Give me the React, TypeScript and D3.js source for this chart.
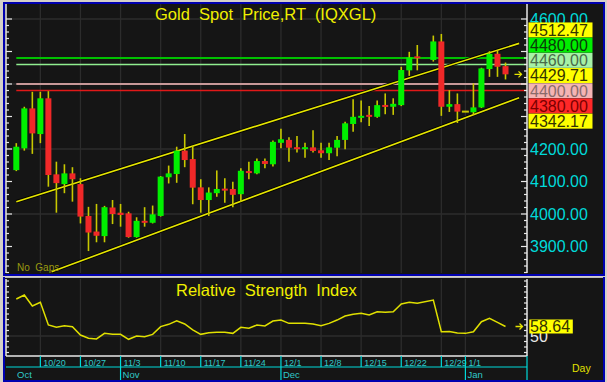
import React from "react";
import * as d3 from "d3";

// ---------------- DATA ----------------
const dates = [
  "2025-10-15","2025-10-16","2025-10-17",
  "2025-10-20","2025-10-21","2025-10-22","2025-10-23","2025-10-24",
  "2025-10-27","2025-10-28","2025-10-29","2025-10-30","2025-10-31",
  "2025-11-03","2025-11-04","2025-11-05","2025-11-06","2025-11-07",
  "2025-11-10","2025-11-11","2025-11-12","2025-11-13","2025-11-14",
  "2025-11-17","2025-11-18","2025-11-19","2025-11-20","2025-11-21",
  "2025-11-24","2025-11-25","2025-11-26","2025-11-27","2025-11-28",
  "2025-12-01","2025-12-02","2025-12-03","2025-12-04","2025-12-05",
  "2025-12-08","2025-12-09","2025-12-10","2025-12-11","2025-12-12",
  "2025-12-15","2025-12-16","2025-12-17","2025-12-18","2025-12-19",
  "2025-12-22","2025-12-23","2025-12-24","2025-12-26",
  "2025-12-29","2025-12-30","2025-12-31",
  "2026-01-01","2026-01-02",
  "2026-01-05","2026-01-06","2026-01-07","2026-01-08",
];

const opens = [
  4135, 4202, 4325,
  4246, 4356, 4122, 4092, 4125,
  4092, 3994, 3946, 3932, 4020,
  4004, 4002, 3929, 3979, 3973,
  3994, 4113, 4123, 4195, 4169,
  4082, 4043, 4064, 4078, 4077,
  4061, 4132, 4125, 4163, 4153,
  4219, 4228, 4205, 4200, 4205,
  4196, 4187, 4204, 4228, 4277,
  4296, 4305, 4299, 4335, 4330,
  4335, 4442, 4484, 4474,
  4531, 4330, 4338,
  4315, 4313,
  4328, 4446, 4493, 4455,
];
const highs = [
  4218, 4330, 4376,
  4376, 4378, 4161, 4153, 4144,
  4110, 4022, 4031, 4025, 4043,
  4031, 4007, 3990, 4021, 4026,
  4117, 4149, 4207, 4246, 4209,
  4107, 4082, 4134, 4110, 4099,
  4141, 4161, 4171, 4171, 4226,
  4262, 4236, 4240, 4219, 4258,
  4219, 4219, 4240, 4284, 4353,
  4349, 4332, 4349, 4371, 4356,
  4453, 4499, 4520, 4549,
  4554, 4381, 4371,
  4315, 4402,
  4450, 4501, 4504, 4466,
];
const lows = [
  4132, 4195, 4185,
  4218, 4084, 4004, 4064, 4038,
  3971, 3886, 3913, 3913, 3969,
  3961, 3927, 3927, 3961, 3971,
  3992, 4094, 4096, 4144, 4030,
  4004, 3994, 4053, 4035, 4021,
  4038, 4107, 4122, 4141, 4146,
  4202, 4161, 4189, 4173, 4189,
  4173, 4166, 4178, 4199, 4253,
  4282, 4271, 4296, 4307, 4305,
  4332, 4425, 4442, 4469,
  4302, 4314, 4280,
  4315, 4305,
  4326, 4422, 4422, 4414,
];
const closes = [
  4207, 4325, 4248,
  4356, 4120, 4095, 4125, 4107,
  3992, 3943, 3933, 4021, 4000,
  3997, 3929, 3979, 3973, 3999,
  4115, 4125, 4195, 4166, 4081,
  4043, 4066, 4077, 4072, 4059,
  4133, 4126, 4163, 4154, 4222,
  4230, 4204, 4200, 4205, 4194,
  4187, 4205, 4228, 4279, 4299,
  4302, 4299, 4335, 4330, 4339,
  4443, 4482, 4480, 4531,
  4330, 4338, 4315,
  4315, 4328,
  4448, 4493, 4453, 4429.71,
];
const rsiValues = [
  83.6, 87.3, 77.3,
  80.6, 60, 57.9, 59.4, 58.5,
  50.9, 47.9, 47.3, 52.4, 51.5,
  51.5, 47, 50, 49.4, 51.5,
  58.5, 60.6, 63.9, 60.9, 55.5,
  51.5, 53, 53.3, 53.3, 52.4,
  57.9, 57, 60, 59.1, 63.6,
  64.5, 61.5, 61.5, 61.5, 60.9,
  59.4, 61.5, 64.5, 68.2, 69.7,
  70.6, 69.1, 72.1, 71.5, 72.1,
  79.1, 80.6, 79.7, 82.7,
  53.9, 54.0, 52.7,
  52.4, 53.9,
  63, 66.1, 62.4, 58.64,
];

// horizontal level lines
const levelValues = [4480, 4460, 4400, 4380];
const levelColors = ["#00c000", "#90ee90", "#c89898", "#e01818"];
const levelWidths = [2, 1.5, 2, 1.5];

// trend channel: [slot index, price]
const upperTrend: [number, number][] = [[0, 4038], [62.7, 4525]];
const lowerTrend: [number, number][] = [[4.4, 3822], [62.7, 4358]];

// right-hand value labels
const tagValues = [4512.47, 4480.0, 4460.0, 4429.71, 4400.0, 4380.0, 4342.17];
const tagBg = ["#ffff00", "#00ee00", "#a6f2a6", "#ffff00", "#f4b4b4", "#ff2828", "#ffff00"];
const tagFg = ["#333300", "#0a3a0a", "#4a6a4a", "#333300", "#8a6a6a", "#7a0000", "#333300"];
const lastClose = 4429.71;

const priceTicks = [3900, 4000, 4100, 4200, 4300, 4400, 4500, 4600];
const priceGrid = [4000, 4200, 4400, 4600];
const rsiGrid = [50];
const rsiTickLabel = 50;
const rsiLast = 58.64;

const weekTicks = ["2025-10-20","2025-10-27","2025-11-03","2025-11-10","2025-11-17","2025-11-24","2025-12-01","2025-12-08","2025-12-15","2025-12-22","2025-12-29","2026-01-01"];
const weekLabels = ["10/20","10/27","11/3","11/10","11/17","11/24","12/1","12/8","12/15","12/22","12/29","1/1"];
const monthTicks = ["2025-11-03","2025-12-01","2026-01-01"];
const monthLabels = ["Oct","Nov","Dec","Jan"];

// ---------------- LAYOUT ----------------
const W = 607, H = 382;
const FONT = "'Liberation Sans', Arial, Helvetica, sans-serif";
const P = { left: 6, right: 527, top: 4, bottom: 273 };
const R = { left: 6, right: 527, top: 279, bottom: 356 };
const BG = "#151515";
const GRID = "#2c2c2c";
const CYAN = "#00dada";
const BLUE = "#0000b0";

const parse = (s: string) => new Date(s + "T00:00:00Z");
const fmt = d3.utcFormat("%Y-%m-%d");
const slots = d3
  .utcDays(parse(dates[0]), d3.utcDay.offset(parse("2026-01-20"), 1))
  .filter((d) => d.getUTCDay() !== 0 && d.getUTCDay() !== 6);
const slotOf = new Map(slots.map((d, i) => [fmt(d), i] as [string, number]));
const idx = (s: string) => slotOf.get(s) as number;

const x = d3.scaleLinear().domain([0, idx(dates[dates.length - 1])]).range([16.3, 505.5]);
const y = d3.scaleLinear().domain([3800, 4600]).range([279, 19]);
const yr = d3.scaleLinear().domain([30, 100]).range([358, 281]);

function Tag({ yc, text, bg, fg, w }: { yc: number; text: string; bg: string; fg: string; w: number }) {
  return (
    <g>
      <rect x={528.5} y={yc - 7.5} width={w} height={15} fill={bg} />
      <text x={530} y={yc + 5.8} fontSize={16} fill={fg} fontFamily={FONT}>{text}</text>
    </g>
  );
}

export default function App() {
  const candles = dates.map((d, i) => ({
    k: idx(d), o: opens[i], h: highs[i], l: lows[i], c: closes[i],
  }));

  // tag layout: anchor the last price, push others away
  const order = tagValues.map((v, i) => i).sort((a, b) => tagValues[b] - tagValues[a]);
  const want = order.map((i) => y(tagValues[i]) + 1.2);
  const pos = want.slice();
  const a = order.findIndex((i) => tagValues[i] === lastClose);
  const th = 15.2;
  for (let j = a - 1; j >= 0; j--) pos[j] = Math.min(want[j], pos[j + 1] - th);
  for (let j = a + 1; j < pos.length; j++) pos[j] = Math.max(want[j], pos[j - 1] + th);

  // axis labels hidden behind tags are not drawn
  const visibleTicks = priceTicks.filter((v) => pos.every((p) => Math.abs(p - y(v)) > 9));

  const minorTicks = d3.range(3800, 4601, 20);
  const rsiMinor = d3.range(30, 101, 5);

  const rsiLine = d3
    .line<number>()
    .x((v, i) => x(idx(dates[i])))
    .y((v) => yr(v))(rsiValues) as string;

  const trendPath = (t: [number, number][]) =>
    d3.line<[number, number]>().x((p) => x(p[0])).y((p) => y(p[1]))(t) as string;

  const lastX = x(idx(dates[dates.length - 1]));

  return (
    <svg width={W} height={H} style={{ position: "absolute", left: 0, top: 0 }} fontFamily={FONT}>
      <defs>
        <clipPath id="pclip">
          <rect x={P.left} y={P.top} width={P.right - P.left} height={P.bottom - P.top} />
        </clipPath>
        <clipPath id="rclip">
          <rect x={R.left} y={R.top} width={R.right - R.left} height={R.bottom - R.top} />
        </clipPath>
      </defs>
      <rect x={0} y={0} width={W} height={H} fill="#d4d0c8" />

      {/* ---------- PRICE PANEL ---------- */}
      <rect x={4} y={3} width={600} height={272} fill={BG} />
      <rect x={4} y={3} width={600} height={272} fill="none" stroke={BLUE} strokeWidth={2} />

      <g clipPath="url(#pclip)">
        {priceGrid.map((v) => (
          <line key={v} x1={P.left} x2={P.right} y1={y(v)} y2={y(v)} stroke={GRID} strokeWidth={1.3} />
        ))}
        {weekTicks.map((d) => (
          <line key={d} x1={x(idx(d))} x2={x(idx(d))} y1={P.top} y2={P.bottom} stroke={GRID} strokeWidth={1.3} />
        ))}
        {levelValues.map((v, i) => (
          <line key={v} x1={x(0)} x2={P.right} y1={y(v)} y2={y(v)} stroke={levelColors[i]} strokeWidth={levelWidths[i]} />
        ))}
        {[upperTrend, lowerTrend].map((t, i) => (
          <g key={i}>
            <path d={trendPath(t)} stroke="#000" strokeWidth={3.2} fill="none" />
            <path d={trendPath(t)} stroke="#e6e600" strokeWidth={1.6} fill="none" />
          </g>
        ))}
        {candles.map((c, i) => {
          const cx = x(c.k);
          const flat = c.o === c.c && c.h === c.l;
          if (flat) {
            return <line key={i} x1={cx - 3.5} x2={cx + 3.5} y1={y(c.c)} y2={y(c.c)} stroke="#c8c800" strokeWidth={2} />;
          }
          const up = c.c >= c.o;
          const top = y(Math.max(c.o, c.c));
          const bot = y(Math.min(c.o, c.c));
          const hgt = Math.max(2, bot - top);
          return (
            <g key={i}>
              <line x1={cx} x2={cx} y1={y(c.h)} y2={y(c.l)} stroke="#c8c800" strokeWidth={1.6} />
              <rect x={cx - 3} y={top - (hgt - (bot - top)) / 2} width={6} height={hgt} fill={up ? "#00f000" : "#f02828"} />
            </g>
          );
        })}
        <text x={17} y={271} fontSize={10} fill="#9a9a10" style={{ whiteSpace: "pre" }}>No  Gaps</text>
      </g>

      {/* title */}
      <text x={155} y={19.5} fontSize={16.5} fill="#f0f000" style={{ whiteSpace: "pre" }}>Gold  Spot  Price,RT  (IQXGL)</text>

      {/* left axis */}
      <line x1={P.left} x2={P.left} y1={P.top} y2={P.bottom} stroke="#e8e8e8" strokeWidth={1.5} />
      {minorTicks.filter((v) => y(v) >= P.top && y(v) <= P.bottom).map((v) => (
        <line key={v} x1={P.left} x2={P.left + (v % 100 === 0 ? 6 : 3)} y1={y(v)} y2={y(v)} stroke="#e8e8e8" strokeWidth={1.2} />
      ))}
      {/* right axis */}
      <line x1={P.right} x2={P.right} y1={P.top} y2={P.bottom} stroke="#e8e8e8" strokeWidth={1.5} />
      {minorTicks.filter((v) => y(v) >= P.top && y(v) <= P.bottom).map((v) => (
        <line key={v} x1={P.right - (v % 100 === 0 ? 6 : 3)} x2={P.right} y1={y(v)} y2={y(v)} stroke="#e8e8e8" strokeWidth={1.2} />
      ))}
      {visibleTicks.map((v) => (
        <text key={v} x={530} y={y(v) + 5.8} fontSize={16} fill={CYAN}>{v.toFixed(2)}</text>
      ))}
      {order.map((i, j) => (
        <Tag key={i} yc={pos[j]} text={tagValues[i].toFixed(2)} bg={tagBg[i]} fg={tagFg[i]} w={64} />
      ))}
      {/* last price arrow */}
      <path d={`M${lastX + 9},${y(lastClose)} h7 M${lastX + 13},${y(lastClose) - 3} l3,3 l-3,3`} stroke="#e6e600" strokeWidth={1.3} fill="none" />

      {/* ---------- RSI PANEL ---------- */}
      <rect x={4} y={277} width={600} height={104} fill={BG} />
      <path d="M4,277 V381 H604 V277" fill="none" stroke={BLUE} strokeWidth={2} />
      <line x1={5} x2={603} y1={277.5} y2={277.5} stroke="#bcbcbc" strokeWidth={1} />
      <g clipPath="url(#rclip)">
        {rsiGrid.map((v) => (
          <line key={v} x1={R.left} x2={R.right} y1={yr(v)} y2={yr(v)} stroke={GRID} strokeWidth={1.3} />
        ))}
        {weekTicks.map((d) => (
          <line key={d} x1={x(idx(d))} x2={x(idx(d))} y1={R.top} y2={R.bottom} stroke={GRID} strokeWidth={1.3} />
        ))}
        <path d={rsiLine} stroke="#e0e000" strokeWidth={1.5} fill="none" />
      </g>
      <text x={176} y={296} fontSize={16.5} fill="#f0f000" style={{ whiteSpace: "pre" }}>Relative  Strength  Index</text>
      <line x1={R.left} x2={R.left} y1={R.top} y2={R.bottom} stroke="#e8e8e8" strokeWidth={1.5} />
      <line x1={R.right} x2={R.right} y1={R.top} y2={R.bottom} stroke="#e8e8e8" strokeWidth={1.5} />
      {rsiMinor.filter((v) => yr(v) >= R.top && yr(v) <= R.bottom).map((v) => (
        <g key={v}>
          <line x1={R.left} x2={R.left + 3} y1={yr(v)} y2={yr(v)} stroke="#e8e8e8" strokeWidth={1.2} />
          <line x1={R.right - 3} x2={R.right} y1={yr(v)} y2={yr(v)} stroke="#e8e8e8" strokeWidth={1.2} />
        </g>
      ))}
      <line x1={R.left} x2={R.right} y1={R.bottom} y2={R.bottom} stroke="#e8e8e8" strokeWidth={1.5} />
      <text x={530} y={yr(rsiTickLabel) + 5.8} fontSize={16} fill="#e8e8e8">{rsiTickLabel}</text>
      <rect x={529.3} y={yr(rsiLast) - 7} width={43.5} height={14} fill="#ffff00" />
      <text x={530} y={yr(rsiLast) + 5.6} fontSize={16} fill="#333300">{rsiLast.toFixed(2)}</text>
      <path d={`M${lastX + 10},${yr(rsiLast)} h7 M${lastX + 14},${yr(rsiLast) - 3} l3,3 l-3,3`} stroke="#e6e600" strokeWidth={1.3} fill="none" />

      {/* date axis */}
      <line x1={R.left} x2={R.right} y1={367} y2={367} stroke={CYAN} strokeWidth={1.2} />
      <line x1={R.right} x2={R.right} y1={R.bottom} y2={380} stroke={CYAN} strokeWidth={1.2} />
      {weekTicks.map((d, i) => (
        <g key={d}>
          <line x1={x(idx(d))} x2={x(idx(d))} y1={R.bottom} y2={367} stroke={CYAN} strokeWidth={1.2} />
          <text x={x(idx(d)) + 3} y={365.5} fontSize={9} fill="#30c8c8">{weekLabels[i]}</text>
        </g>
      ))}
      {monthTicks.map((d) => (
        <line key={d} x1={x(idx(d))} x2={x(idx(d))} y1={367} y2={380} stroke={CYAN} strokeWidth={1.2} />
      ))}
      {monthLabels.map((m, i) => (
        <text key={m} x={i === 0 ? 17 : x(idx(monthTicks[i - 1])) + 2} y={377.5} fontSize={9.5} fill="#30c8c8">{m}</text>
      ))}
      <text x={572} y={372} fontSize={10.5} fill="#e0e000">Day</text>
    </svg>
  );
}
